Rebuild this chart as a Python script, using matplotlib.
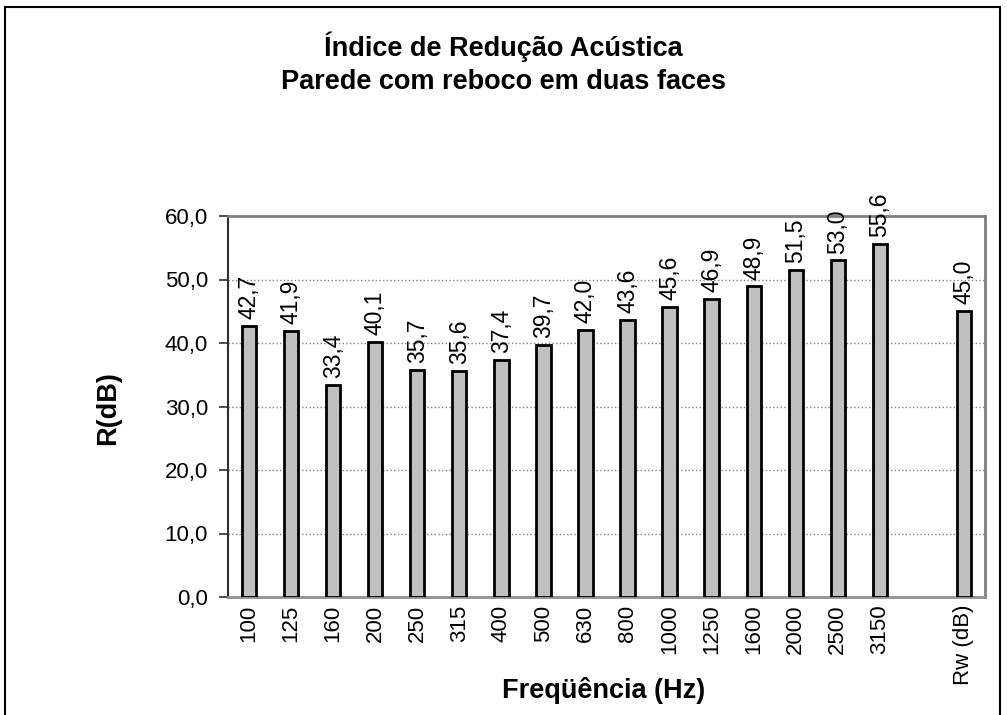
import matplotlib.pyplot as plt
from matplotlib.patches import Rectangle

plt.rcParams['font.family'] = ['Liberation Sans', 'DejaVu Sans']

freqs = ['100', '125', '160', '200', '250', '315', '400', '500', '630', '800',
         '1000', '1250', '1600', '2000', '2500', '3150']
r_values = [42.7, 41.9, 33.4, 40.1, 35.7, 35.6, 37.4, 39.7, 42.0, 43.6,
            45.6, 46.9, 48.9, 51.5, 53.0, 55.6]
rw_label = 'Rw (dB)'
rw_value = 45.0
y_ticks = [0, 10, 20, 30, 40, 50, 60]

fig = plt.figure(figsize=(10.07, 7.15), dpi=100)
ax = fig.add_axes([228 / 1007, 1 - 597 / 715, 757 / 1007, 381 / 715])

# positions: 16 frequency bands, one empty slot, then Rw
positions = list(range(len(freqs))) + [len(freqs) + 1]
labels = freqs + [rw_label]
values = r_values + [rw_value]

ax.bar(positions, values, width=0.34, color='#c0c0c0',
       edgecolor='black', linewidth=2, zorder=3)

for x, v in zip(positions, values):
    ax.annotate(f'{v:.1f}'.replace('.', ','), (x, v), xytext=(0, 5),
                textcoords='offset points', rotation=90, ha='center',
                va='bottom', fontsize=16.5, annotation_clip=False)

ax.set_xlim(-0.5, len(freqs) + 1.5)
ax.set_ylim(0, 60)
ax.set_xticks(positions)
ax.set_xticklabels(labels, rotation=90, fontsize=16)
ax.set_yticks(y_ticks)
ax.set_yticklabels([f'{t:.1f}'.replace('.', ',') for t in y_ticks], fontsize=16)
ax.tick_params(axis='x', length=0, pad=5.5)
ax.tick_params(axis='y', length=6.5, width=1.2, pad=8, color='#303030')

ax.yaxis.grid(True, linestyle=':', color='#808080', linewidth=1, zorder=0)
ax.set_axisbelow(True)

for side in ('top', 'right'):
    ax.spines[side].set_color('#808080')
    ax.spines[side].set_linewidth(2)
ax.spines['left'].set_color('#303030')
ax.spines['left'].set_linewidth(1.5)
ax.spines['bottom'].set_color('#909090')
ax.spines['bottom'].set_linewidth(2)

fig.text(108 / 1007, 1 - 408 / 715, 'R(dB)', ha='center', va='center',
         rotation=90, fontsize=19.5, fontweight='bold')
fig.text(604 / 1007, 1 - 690 / 715, 'Freqüência (Hz)', ha='center',
         va='center', fontsize=19.5, fontweight='bold')

fig.text(0.5, 1 - 47 / 715, 'Índice de Redução Acústica', ha='center',
         va='center', fontsize=19.5, fontweight='bold')
fig.text(0.5, 1 - 82 / 715, 'Parede com reboco em duas faces', ha='center',
         va='center', fontsize=19.5, fontweight='bold')

fig.patches.append(Rectangle((5 / 1007, -0.05), 995 / 1007, 1.05 - 7 / 715,
                             transform=fig.transFigure, fill=False,
                             edgecolor='black', linewidth=1.5))

fig.savefig('out.png', dpi=100)
